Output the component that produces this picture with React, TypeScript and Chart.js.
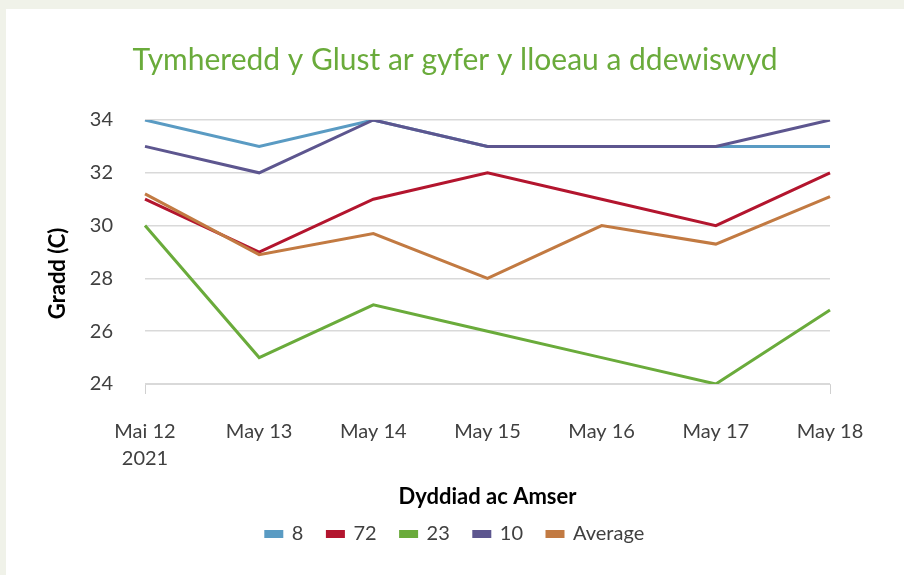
import React, { useEffect, useRef } from "react";
import { Chart, registerables } from "chart.js";

Chart.register(...registerables);

const categories: (string | string[])[] = [["Mai 12", "2021"], "May 13", "May 14", "May 15", "May 16", "May 17", "May 18"];
const seriesNames = ["8", "72", "23", "10", "Average"];
const s8 = [34, 33, 34, 33, 33, 33, 33];
const s72 = [31, 29, 31, 32, 31, 30, 32];
const s23 = [30, 25, 27, 26, 25, 24, 26.8];
const s10 = [33, 32, 34, 33, 33, 33, 34];
const sAvg = [31.2, 28.9, 29.7, 28, 30, 29.3, 31.1];
const seriesColors = ["#5a9bc3", "#b3152e", "#6aab3b", "#5d568f", "#c27a42"];
const yTicks = [24, 26, 28, 30, 32, 34];

const FONT = "Lato, 'Open Sans', sans-serif";

export default function App() {
  const ref = useRef<HTMLCanvasElement>(null);
  useEffect(() => {
    if (!ref.current) return;
    const values = [s8, s72, s23, s10, sAvg];
    const chart = new Chart(ref.current, {
      type: "line",
      data: {
        labels: categories,
        datasets: values.map((v, i) => ({
          label: seriesNames[i],
          data: v,
          borderColor: seriesColors[i],
          backgroundColor: seriesColors[i],
          borderWidth: 3,
          pointRadius: 0,
          tension: 0,
          order: values.length - i,
        })),
      },
      options: {
        animation: false,
        responsive: false,
        layout: { padding: { left: 0, right: 0, top: 0, bottom: 21 } },
        plugins: {
          title: {
            display: true,
            text: "Tymheredd y Glust ar gyfer y lloeau a ddewiswyd",
            color: "#6aab3b",
            font: { family: FONT, size: 30, weight: "normal" },
            padding: { top: 33, bottom: 42 },
          },
          legend: {
            position: "bottom",
            labels: {
              boxWidth: 16,
              boxHeight: 5,
              padding: 24,
              color: "#404040",
              font: { family: FONT, size: 20 },
              sort: (a: any, b: any) => a.datasetIndex - b.datasetIndex,
            },
          },
          tooltip: { enabled: false },
        },
        scales: {
          x: {
            offset: false,
            grid: {
              drawOnChartArea: false,
              drawTicks: true,
              tickLength: 10,
              color: (ctx: any) =>
                ctx.index === 0 || ctx.index === categories.length - 1 ? "#d0d0d0" : "rgba(0,0,0,0)",
            },
            border: { display: true, color: "#d9d9d9", width: 1 },
            ticks: {
              color: "#404040",
              font: { family: FONT, size: 20, lineHeight: 1.35 },
              padding: 24,
              maxRotation: 0,
              autoSkip: false,
            },
            title: {
              display: true,
              text: "Dyddiad ac Amser",
              color: "#000",
              font: { family: FONT, size: 22, weight: "bold" },
              padding: { top: 0, bottom: -10 },
            },
            afterFit: (scale: any) => {
              scale.height = 116;
            },
          },
          y: {
            min: 24,
            max: 34,
            afterBuildTicks: (scale: any) => {
              scale.ticks = yTicks.map((v) => ({ value: v }));
            },
            grid: { color: "#d9d9d9", lineWidth: 1.5, drawTicks: false },
            border: { display: false },
            ticks: {
              color: "#404040",
              font: { family: FONT, size: 20 },
              padding: 32,
            },
            title: {
              display: true,
              text: "Gradd (C)        ",
              color: "#000",
              font: { family: FONT, size: 22, weight: "bold" },
              padding: { top: 39, bottom: 4 },
            },
            afterFit: (scale: any) => {
              scale.width = 139;
            },
          },
          yRight: {
            type: "linear",
            position: "right",
            display: true,
            grid: { display: false, drawTicks: false },
            border: { display: false },
            ticks: { display: false },
            afterFit: (scale: any) => {
              scale.width = 74;
            },
          },
        },
      },
    });
    return () => chart.destroy();
  }, []);

  return (
    <div style={{ position: "fixed", inset: 0, background: "#f0f2e9" }}>
      <div style={{ position: "absolute", left: 6, top: 9, width: 898, height: 566, background: "#fff" }}>
        <canvas ref={ref} width={898} height={566} style={{ display: "block" }} />
      </div>
    </div>
  );
}
